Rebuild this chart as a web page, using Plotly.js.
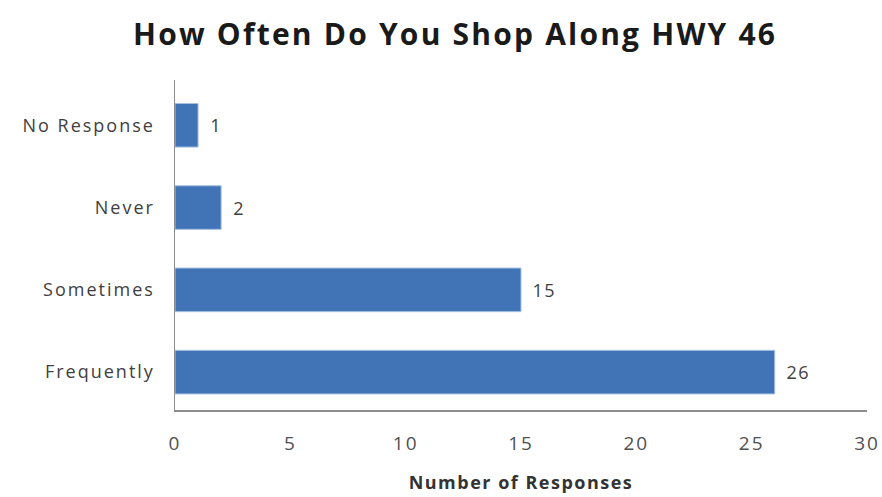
<!DOCTYPE html>
<html>
<head>
<meta charset="utf-8">
<script src="https://cdn.plot.ly/plotly-3.0.1.min.js"></script>
<style>
  html, body { margin: 0; padding: 0; background: #ffffff; }
  #chart { width: 882px; height: 497px; }
  /* wide, airy lettering for the chart texts */
  #chart .gtitle { letter-spacing: 2.2px; }
  #chart .ytick text { letter-spacing: 2px; }
  #chart .xtick text { letter-spacing: 2px; }
  #chart .xtitle { letter-spacing: 1.5px; }
  #chart .annotation-text { letter-spacing: 1.5px; }
</style>
</head>
<body>
<div id="chart"></div>
<script>
// Survey answers, drawn bottom-to-top
const categories = ['Frequently', 'Sometimes', 'Never', 'No Response'];
const responses = [26, 15, 2, 1];
const xTicks = [0, 5, 10, 15, 20, 25, 30];

const FONT = '"Open Sans", "DejaVu Sans", sans-serif';

const bars = {
  type: 'bar',
  orientation: 'h',
  y: categories,
  x: responses,
  width: 0.53,
  marker: {
    color: '#4174b6',
    line: { color: '#a9c0e0', width: 1 }
  },
  hoverinfo: 'x+y'
};

// Value labels next to each bar end
const valueLabels = categories.map((c, i) => ({
  x: responses[i],
  y: c,
  xref: 'x',
  yref: 'y',
  text: String(responses[i]),
  showarrow: false,
  xanchor: 'left',
  xshift: 11,
  font: { family: FONT, size: 18, color: '#404040' }
}));

const layout = {
  width: 882,
  height: 497,
  margin: { l: 175, r: 15, t: 80, b: 87 },
  paper_bgcolor: '#ffffff',
  plot_bgcolor: '#ffffff',
  showlegend: false,
  title: {
    text: '<b>How Often Do You Shop Along HWY 46</b>',
    x: 0.516,
    xanchor: 'center',
    y: 0.93,
    yanchor: 'middle',
    font: { family: FONT, size: 30, color: '#1a1a1a' }
  },
  xaxis: {
    range: [0, 30],
    tickvals: xTicks,
    ticktext: xTicks.map(String),
    showgrid: false,
    zeroline: false,
    showline: true,
    linecolor: '#8c8c8c',
    linewidth: 1.5,
    ticks: '',
    ticklabelstandoff: 16,
    tickfont: { family: FONT, size: 19, color: '#505050' },
    title: {
      text: '<b>Number of Responses</b>',
      standoff: 21,
      font: { family: FONT, size: 18, color: '#333333' }
    },
    fixedrange: true
  },
  yaxis: {
    range: [-0.46, 3.55],
    showgrid: false,
    zeroline: false,
    showline: true,
    linecolor: '#8c8c8c',
    linewidth: 1.5,
    ticks: '',
    ticklabelstandoff: 15,
    tickfont: { family: FONT, size: 18, color: '#404040' },
    fixedrange: true
  },
  annotations: valueLabels
};

Plotly.newPlot('chart', [bars], layout, { displayModeBar: false, staticPlot: true });
</script>
</body>
</html>
